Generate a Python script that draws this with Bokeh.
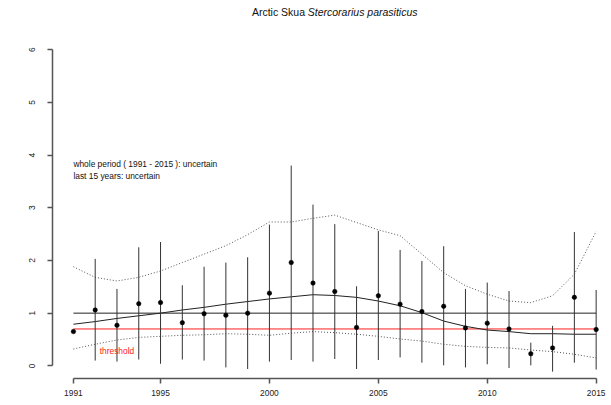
import math
from bokeh.plotting import figure
from bokeh.models import Range1d, FixedTicker, Label, ColumnDataSource, LinearAxis
from bokeh.embed import file_html
from bokeh.resources import INLINE

# ---- data ----
years = list(range(1991, 2016))
index = [0.65, 1.06, 0.77, 1.18, 1.20, 0.82, 0.99, 0.96, 1.00, 1.38, 1.96, 1.57, 1.41,
         0.73, 1.33, 1.17, 1.03, 1.13, 0.72, 0.81, 0.70, 0.23, 0.34, 1.30, 0.69]
bar_low = [float("nan"), 0.10, 0.08, 0.12, 0.04, 0.12, 0.10, -0.03, -0.06, 0.08, 0.11, 0.08, 0.13,
           -0.06, 0.11, 0.16, 0.06, 0.01, -0.03, 0.03, -0.04, 0.01, -0.11, 0.06, -0.07]
bar_high = [float("nan"), 2.03, 1.46, 2.25, 2.35, 1.53, 1.88, 1.96, 2.06, 2.68, 3.80, 3.06, 2.69,
            1.51, 2.56, 2.20, 1.99, 2.27, 1.46, 1.58, 1.42, 0.44, 0.76, 2.54, 1.44]
trend = [0.79, 0.84, 0.90, 0.95, 1.00, 1.06, 1.11, 1.17, 1.22, 1.27, 1.31, 1.35, 1.335,
         1.30, 1.23, 1.14, 1.01, 0.85, 0.75, 0.68, 0.65, 0.61, 0.61, 0.60, 0.60]
trend_upper = [1.88, 1.68, 1.61, 1.68, 1.80, 1.96, 2.12, 2.28, 2.49, 2.73, 2.73, 2.80, 2.86,
               2.72, 2.58, 2.47, 2.12, 1.77, 1.52, 1.36, 1.23, 1.20, 1.33, 1.74, 2.55]
trend_lower = [0.32, 0.41, 0.49, 0.54, 0.56, 0.58, 0.59, 0.61, 0.60, 0.58, 0.62, 0.65, 0.63,
               0.60, 0.56, 0.51, 0.47, 0.41, 0.37, 0.35, 0.34, 0.30, 0.27, 0.22, 0.15]
baseline = 1.0
threshold = 0.7
x_ticks = [1991, 1995, 2000, 2005, 2010, 2015]
y_ticks = [0, 1, 2, 3, 4, 5, 6]
title_plain = "Arctic Skua"
title_italic = "Stercorarius parasiticus"
status_whole = "whole period ( 1991 - 2015 ): uncertain"
status_last = "last 15 years: uncertain"

FONT = "Liberation Sans"
FS = "8.4px"
LINE = "#333333"

p = figure(width=611, height=405, output_backend="svg", toolbar_location=None,
           title=None, y_axis_location=None,
           x_range=Range1d(1990.04, 2015.705), y_range=Range1d(-0.24, 6.933),
           min_border_left=52, min_border_right=0, min_border_top=0, min_border_bottom=27)
p.outline_line_color = None
p.grid.visible = False
p.background_fill_color = "white"

yax = LinearAxis(ticker=FixedTicker(ticks=y_ticks), bounds=(float(y_ticks[0]), float(y_ticks[-1])),
                 major_label_orientation="vertical")
p.add_layout(yax, "left")

# axes
p.xaxis.ticker = FixedTicker(ticks=x_ticks)
p.xaxis.bounds = (x_ticks[0], x_ticks[-1])
for ax in (p.xaxis[0], yax):
    ax.axis_line_color = "#555555"
    ax.axis_line_width = 1.5
    ax.major_tick_line_color = "#555555"
    ax.major_tick_line_width = 1.5
    ax.major_tick_out = 5
    ax.major_tick_in = 0
    ax.minor_tick_line_color = None
    ax.major_label_text_font = FONT
    ax.major_label_text_font_size = FS
    ax.major_label_text_color = "#222222"
p.xaxis.major_label_standoff = 6
yax.major_label_standoff = 12

# reference lines
p.line([years[0], years[-1]], [baseline, baseline], line_color="#222222", line_width=1)
p.line([years[0], years[-1]], [threshold, threshold], line_color="#ff2020", line_width=1)

# trend and confidence band
p.line(years, trend, line_color="#222222", line_width=1)
p.line(years, trend_upper, line_color="#555555", line_width=1, line_dash="1 2")
p.line(years, trend_lower, line_color="#555555", line_width=1, line_dash="1 2")

# error bars and points
src = ColumnDataSource(dict(x=years, y=index, lo=bar_low, hi=bar_high))
p.segment(x0="x", y0="lo", x1="x", y1="hi", source=src, line_color=LINE, line_width=1)
p.scatter(x="x", y="y", source=src, size=4.5, fill_color="black", line_color="black",
          line_width=0.5)

# texts
p.add_layout(Label(x=1991, y=3.835, text=status_whole, text_font=FONT, text_font_size=FS,
                   text_align="left", text_baseline="middle", text_color="#111111"))
p.add_layout(Label(x=1991, y=3.594, text=status_last, text_font=FONT, text_font_size=FS,
                   text_align="left", text_baseline="middle", text_color="#111111"))
p.add_layout(Label(x=1993, y=0.28, text="threshold", text_font=FONT, text_font_size=FS,
                   text_align="center", text_baseline="middle", text_color="#ff2020"))

# title in two parts (plain + italic)
p.add_layout(Label(x=2003, y=6.715, x_offset=-29.8, text=title_plain, text_font=FONT,
                   text_font_size="10.5px", text_align="right", text_baseline="middle",
                   text_color="#111111"))
p.add_layout(Label(x=2003, y=6.715, x_offset=-27.0, text=title_italic, text_font=FONT,
                   text_font_size="10.5px", text_font_style="italic", text_align="left",
                   text_baseline="middle", text_color="#111111"))

# y axis label
p.add_layout(Label(x=1988.42, y=3.17, text="Index", text_font=FONT, text_font_size=FS,
                   angle=math.pi / 2, text_align="center", text_baseline="middle",
                   text_color="#111111"))

open("out.html", "w").write(file_html(p, INLINE))
